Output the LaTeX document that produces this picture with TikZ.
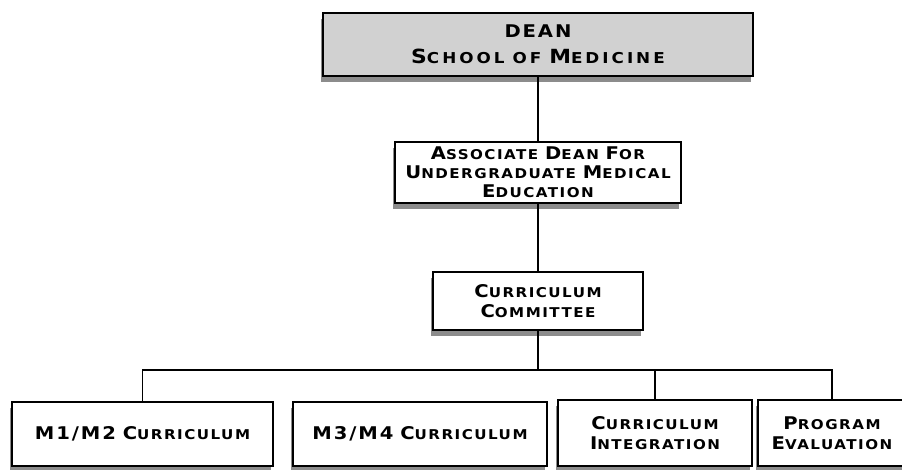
\documentclass[tikz,border=0pt]{standalone}
\usepackage{fontspec}
\usetikzlibrary{shadows}
\newfontfamily\cpfont[FakeStretch=1.12,LetterSpace=11]{DejaVu Sans}
\newfontfamily\cpwide[FakeStretch=1.12,LetterSpace=20]{DejaVu Sans}
\newcommand\cpsc[2]{{\fontsize{17.5}{20}\selectfont #1}{\fontsize{13.5}{20}\selectfont #2}}
\newcommand\cpbig[1]{{\fontsize{17.5}{20}\selectfont #1}}
\newcommand\cpsm[1]{{\fontsize{13.5}{20}\selectfont #1}}
\newcommand\cpwsc[2]{{\fontsize{19.5}{22}\selectfont #1}{\fontsize{15}{22}\selectfont #2}}
\tikzset{
  orgbox/.style={draw=black, line width=1.6pt, fill=white, inner sep=0pt,
    align=center, font=\cpfont\bfseries\fontsize{13.5}{20}\selectfont,
    general shadow={fill=black!45, shadow xshift=-2pt, shadow yshift=-6pt}},
  link/.style={draw=black, line width=1.3pt}
}
\begin{document}
\begin{tikzpicture}[x=1pt,y=-1pt]
\useasboundingbox (0,0) rectangle (902,469);
\node[orgbox, fill=black!18, minimum width=430pt, minimum height=63pt] (dean) at (538,44.5)
  {\cpbig{DEAN}\\[6pt]{\cpwide\bfseries\cpwsc{S}{CHOOL} {\fontsize{15}{22}\selectfont OF} \cpwsc{M}{EDICINE}}};
\node[orgbox, minimum width=286pt, minimum height=61pt] (assoc) at (538,172.5)
  {\cpsc{A}{SSOCIATE} \cpsc{D}{EAN} \cpsc{F}{OR}\\[-1pt]\cpsc{U}{NDERGRADUATE} \cpsc{M}{EDICAL}\\[-1pt]\cpsc{E}{DUCATION}};
\node[orgbox, minimum width=210pt, minimum height=58pt] (comm) at (538,301)
  {\cpsc{C}{URRICULUM}\\\cpsc{C}{OMMITTEE}};
\node[orgbox, minimum width=261pt, minimum height=64pt] (m12) at (142.5,434)
  {\cpbig{M1/M2} \cpsc{C}{URRICULUM}};
\node[orgbox, minimum width=254pt, minimum height=64pt] (m34) at (420,434)
  {\cpbig{M3/M4} \cpsc{C}{URRICULUM}};
\node[orgbox, minimum width=194pt, minimum height=66pt] (ci) at (655,433)
  {\cpsc{C}{URRICULUM}\\\cpsc{I}{NTEGRATION}};
\node[orgbox, minimum width=148pt, minimum height=66pt] (pe) at (832,433)
  {\cpsc{P}{ROGRAM}\\\cpsc{E}{VALUATION}};
\coordinate (bus) at (538,370);
\draw[link] (dean.south) -- (assoc.north);
\draw[link] (assoc.south) -- (comm.north);
\draw[link] (comm.south) -- (bus);
\draw[link] (m12.north) |- (bus) -| (pe.north);
\draw[link] (ci.north) -- (ci.north |- bus);
\end{tikzpicture}
\end{document}
